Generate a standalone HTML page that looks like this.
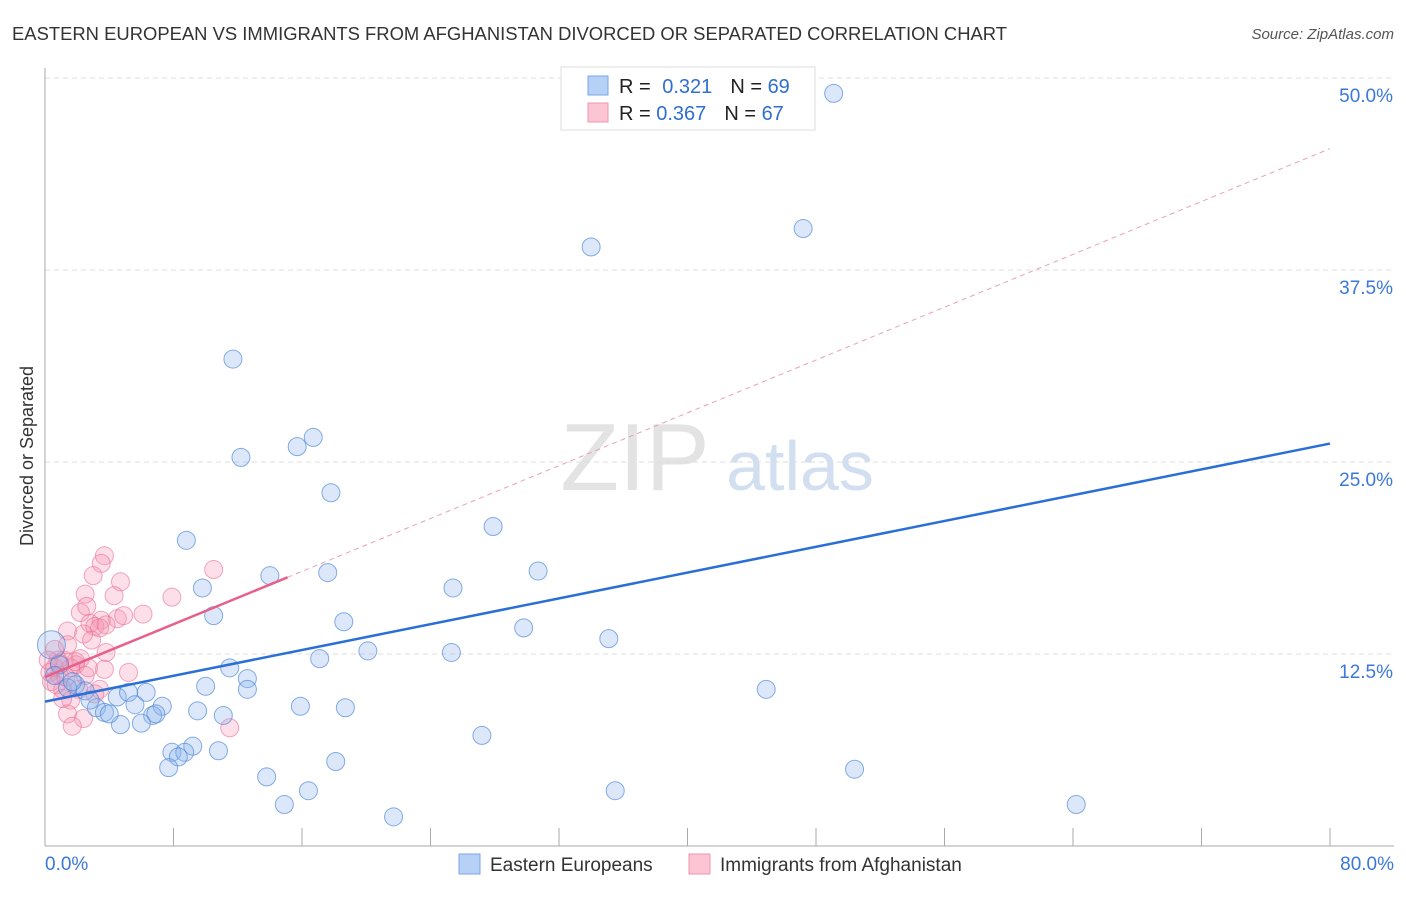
<!DOCTYPE html>
<html><head><meta charset="utf-8"><style>
body{margin:0;background:#fff;font-family:"Liberation Sans",sans-serif;}
svg text{font-family:"Liberation Sans",sans-serif;}
</style></head><body>
<svg id="chart" width="1406" height="892" xmlns="http://www.w3.org/2000/svg">
<text x="12" y="40" font-size="18" fill="#333" textLength="995" lengthAdjust="spacingAndGlyphs">EASTERN EUROPEAN VS IMMIGRANTS FROM AFGHANISTAN DIVORCED OR SEPARATED CORRELATION CHART</text>
<text x="1394" y="39" font-size="15" fill="#555" font-style="italic" text-anchor="end">Source: ZipAtlas.com</text>
<text x="33" y="456" font-size="18" fill="#333" text-anchor="middle" transform="rotate(-90 33 456)">Divorced or Separated</text>
<g><text x="635" y="490" font-size="96" fill="#ddd" font-family="Liberation Serif" text-anchor="middle" opacity="0.8">ZIP</text><text x="800" y="490" font-size="70" fill="#c8d8ee" text-anchor="middle" opacity="0.8">atlas</text></g>
<g id="grid"></g><g id="axes"></g><g id="pts"></g><g id="lines"></g>
<g>
<rect x="561" y="67" width="254" height="63" fill="#fff" stroke="#ddd"/>
<rect x="588" y="76" width="20" height="19" fill="#b7d0f5" stroke="#7aa6e6"/>
<rect x="588" y="103" width="20" height="19" fill="#fbc5d4" stroke="#f095b0"/>
<text x="619" y="93" font-size="20" fill="#222">R = <tspan fill="#2f6fd0" dx="6">0.321</tspan><tspan dx="18" fill="#222">N = </tspan><tspan fill="#2f6fd0">69</tspan></text>
<text x="619" y="120" font-size="20" fill="#222">R = <tspan fill="#2f6fd0">0.367</tspan><tspan dx="18" fill="#222">N = </tspan><tspan fill="#2f6fd0">67</tspan></text>
</g>
<g>
<rect x="459" y="854" width="21" height="20" fill="#b7d0f5" stroke="#7aa6e6"/>
<text x="490" y="871" font-size="19" fill="#333">Eastern Europeans</text>
<rect x="689" y="854" width="21" height="20" fill="#fbc5d4" stroke="#f095b0"/>
<text x="720" y="871" font-size="19" fill="#333">Immigrants from Afghanistan</text>
</g>
</svg>
<script>
const blueX=[49.1,47.2,34.0,11.7,12.2,15.7,16.7,17.8,27.9,8.8,30.7,17.6,14.0,25.4,9.8,10.5,18.6,29.8,35.1,20.1,25.3,17.1,11.5,12.6,10.0,12.6,44.9,0.4,1.9,1.4,2.5,4.5,5.2,6.3,3.2,3.7,5.6,7.3,9.5,15.9,18.7,6.7,6.9,11.1,4.7,6.0,4.0,27.2,9.2,7.9,8.7,10.8,8.3,7.7,18.1,13.8,50.4,16.4,14.9,35.5,64.2,21.7,0.9,0.6,1.7,2.8];
const blueY=[49.0,40.2,39.0,31.7,25.3,26.0,26.6,23.0,20.8,19.9,17.9,17.8,17.6,16.8,16.8,15.0,14.6,14.2,13.5,12.7,12.6,12.2,11.6,10.9,10.4,10.2,10.2,13.1,10.5,10.3,10.1,9.7,10.0,10.0,9.0,8.7,9.2,9.1,8.8,9.1,9.0,8.5,8.6,8.5,7.9,8.0,8.6,7.2,6.5,6.1,6.1,6.2,5.8,5.1,5.5,4.5,5.0,3.6,2.7,3.6,2.7,1.9,11.8,11.1,10.7,9.5];
const pinkX=[3.7,3.5,3.0,4.7,10.5,7.9,4.3,2.5,2.2,2.6,6.1,4.5,4.9,3.5,2.8,3.1,3.4,3.8,2.4,1.4,2.9,3.8,2.2,1.2,1.9,0.8,0.6,0.3,0.9,1.6,0.4,1.1,1.9,2.1,0.7,1.6,3.7,5.2,3.4,1.4,2.4,1.7,11.5,1.1,0.6,1.4,3.1,0.2,1.3,2.5,2.7,0.9];
const pinkY=[18.9,18.4,17.6,17.2,18.0,16.2,16.3,16.4,15.2,15.6,15.1,14.8,15.0,14.7,14.5,14.3,14.2,14.4,13.8,14.0,13.4,12.6,12.2,12.1,11.8,12.1,11.6,11.3,11.1,11.6,10.7,10.2,12.0,10.2,10.5,9.5,11.5,11.3,10.2,8.6,8.3,7.8,7.7,9.6,12.8,13.1,9.9,12.1,11.0,11.1,11.6,11.9];
const blueTrend=[9.4,26.2];      // y at x=0 and x=80
const pinkTrend=[11.0,45.4];     // y at x=0 and x=80
const pinkSolidEnd=15.1;
const yTicks=[12.5,25.0,37.5,50.0];
const xTickVals=[0,8,16,24,32,40,48,56,64,72,80];
const NS="http://www.w3.org/2000/svg";
const sx=v=>45+v/80*1285, sy=v=>846-v/12.5*192;
function mk(t,a,p){const e=document.createElementNS(NS,t);for(const k in a)e.setAttribute(k,a[k]);p.appendChild(e);return e;}
const grid=document.getElementById('grid'),axes=document.getElementById('axes'),pts=document.getElementById('pts'),lines=document.getElementById('lines');
yTicks.forEach(v=>{
 const l=mk('line',{x1:45,x2:1394,y1:sy(v),y2:sy(v),stroke:'#ddd','stroke-dasharray':'5,4'},grid);
 
 
 const t=mk('text',{x:1393,y:sy(v)+24,'font-size':19,fill:'#3b78d8','text-anchor':'end'},axes);t.textContent=v.toFixed(1)+'%';
 
 
});
mk('line',{x1:45,x2:45,y1:68,y2:846,stroke:'#aaa'},axes);
mk('line',{x1:45,x2:1394,y1:846,y2:846,stroke:'#aaa'},axes);
xTickVals.forEach(v=>{const l=mk('line',{x1:sx(v),x2:sx(v),y1:828,y2:846,stroke:'#aaa'},axes);
 
 });
let t=mk('text',{x:45,y:870,'font-size':19,fill:'#3b78d8'},axes);t.textContent='0.0%';


t=mk('text',{x:1394,y:870,'font-size':19,fill:'#3b78d8','text-anchor':'end'},axes);t.textContent='80.0%';


pinkX.forEach((x,i)=>{const c=mk('circle',{cx:sx(x),cy:sy(pinkY[i]),r:9,fill:'rgba(245,150,180,0.3)',stroke:'rgba(235,110,150,0.6)','stroke-width':1},pts);
 
 });
blueX.forEach((x,i)=>{const c=mk('circle',{cx:sx(x),cy:sy(blueY[i]),r:i==27?14:9,fill:'rgba(140,180,235,0.3)',stroke:'rgba(70,130,215,0.65)','stroke-width':1},pts);
 
 });
let l=mk('line',{x1:sx(0),y1:sy(blueTrend[0]),x2:sx(80),y2:sy(blueTrend[1]),stroke:'#2a6fd6','stroke-width':2.5},lines);


const pAt=x=>pinkTrend[0]+(pinkTrend[1]-pinkTrend[0])*x/80;
l=mk('line',{x1:sx(pinkSolidEnd),y1:sy(pAt(pinkSolidEnd)),x2:sx(80),y2:sy(pinkTrend[1]),stroke:'#eaa0b8','stroke-width':1,'stroke-dasharray':'5,4'},lines);


l=mk('line',{x1:sx(0),y1:sy(pinkTrend[0]),x2:sx(pinkSolidEnd),y2:sy(pAt(pinkSolidEnd)),stroke:'#e8608a','stroke-width':2.5},lines);


</script>
</body></html>
